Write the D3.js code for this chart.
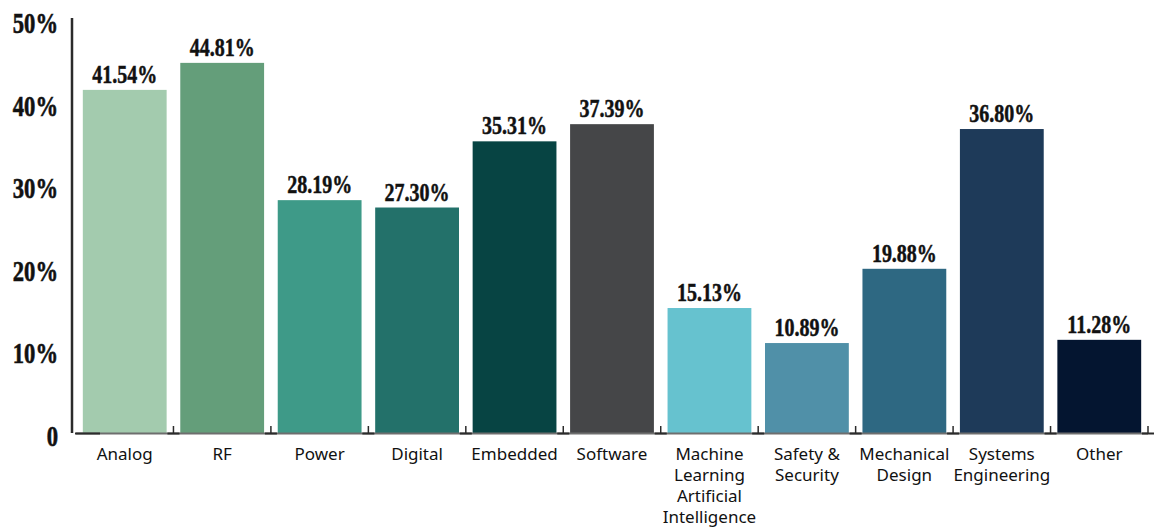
<!DOCTYPE html>
<html>
<head>
<meta charset="utf-8">
<script src="https://cdn.jsdelivr.net/npm/d3@7"></script>
<style>
  body { margin: 0; background: #fff; }
  .val, .ylab { font-family: "Liberation Serif", "DejaVu Serif", serif; font-weight: bold; }
  .xlab { font-family: "Noto Sans", "DejaVu Sans", sans-serif; }
</style>
</head>
<body>
<svg id="chart" width="1155" height="529"></svg>
<script>
var categories = ["Analog", "RF", "Power", "Digital", "Embedded", "Software",
  "Machine\nLearning\nArtificial\nIntelligence", "Safety &\nSecurity",
  "Mechanical\nDesign", "Systems\nEngineering", "Other"];
var values = [41.54, 44.81, 28.19, 27.30, 35.31, 37.39, 15.13, 10.89, 19.88, 36.80, 11.28];
var colors = ["#a3cbae", "#649e7a", "#3e9a88", "#23716a", "#074443", "#454648",
  "#66c2cf", "#5090a8", "#2e6882", "#1e3a59", "#041530"];
var yTicks = [0, 10, 20, 30, 40, 50];

var svg = d3.select("#chart");

var x = d3.scaleBand()
    .domain(d3.range(categories.length))
    .range([76, 1148])
    .paddingInner(0.14)
    .paddingOuter(0.07);

var y = d3.scaleLinear()
    .domain([0, 50])
    .range([433, 20]);

// y axis line
svg.append("line")
  .attr("x1", 72).attr("x2", 72)
  .attr("y1", 18).attr("y2", 433)
  .attr("stroke", "#2b2b2b")
  .attr("stroke-width", 2.5);

// condensed bold labels: squeeze horizontally
svg.selectAll(".ylab")
  .data(yTicks)
  .enter().append("text")
    .attr("class", "ylab")
    .attr("transform", function(d) { return "translate(58," + (y(d) + 13) + ") scale(0.78,1)"; })
    .attr("text-anchor", "end")
    .attr("font-size", 29)
    .attr("stroke", "#111")
    .attr("stroke-width", 0.6)
    .attr("fill", "#111")
    .text(function(d) { return d === 0 ? "0" : d + "%"; });

// bars
svg.selectAll(".bar")
  .data(values)
  .enter().append("rect")
    .attr("class", "bar")
    .attr("x", function(d, i) { return x(i); })
    .attr("y", function(d) { return y(d); })
    .attr("width", x.bandwidth())
    .attr("height", function(d) { return y(0) - y(d); })
    .attr("fill", function(d, i) { return colors[i]; });

// baseline
svg.append("line")
  .attr("x1", 76).attr("x2", 1148)
  .attr("y1", 433.5).attr("y2", 433.5)
  .attr("stroke", "#6e6e6e")
  .attr("stroke-width", 2);
svg.append("line")
  .attr("x1", 75).attr("x2", 100)
  .attr("y1", 433.5).attr("y2", 433.5)
  .attr("stroke", "#2b2b2b")
  .attr("stroke-width", 2);

// category boundary ticks
var bounds = d3.range(1, categories.length).map(function(i) {
  return x(i) - (x.step() - x.bandwidth()) / 2;
});
bounds.push(1148);
svg.selectAll(".tick")
  .data(bounds)
  .enter().append("line")
    .attr("x1", function(d) { return d; })
    .attr("x2", function(d) { return d; })
    .attr("y1", 426).attr("y2", 434)
    .attr("stroke", "#2b2b2b")
    .attr("stroke-width", 1.5);
svg.selectAll(".tickfoot")
  .data(bounds)
  .enter().append("line")
    .attr("x1", function(d) { return d - 6; })
    .attr("x2", function(d) { return d + 6; })
    .attr("y1", 433.5).attr("y2", 433.5)
    .attr("stroke", "#2b2b2b")
    .attr("stroke-width", 2);

// value labels
svg.selectAll(".val")
  .data(values)
  .enter().append("text")
    .attr("class", "val")
    .attr("transform", function(d, i) {
      return "translate(" + (x(i) + x.bandwidth() / 2) + "," + (y(d) - 7) + ") scale(0.8,1)";
    })
    .attr("text-anchor", "middle")
    .attr("font-size", 25)
    .attr("stroke", "#111")
    .attr("stroke-width", 0.5)
    .attr("fill", "#111")
    .text(function(d) { return d.toFixed(2) + "%"; });

// category labels
var xl = svg.selectAll(".xlab")
  .data(categories)
  .enter().append("text")
    .attr("class", "xlab")
    .attr("text-anchor", "middle")
    .attr("font-size", 17)
    .attr("fill", "#111");
xl.each(function(d, i) {
  var t = d3.select(this);
  d.split("\n").forEach(function(line, k) {
    t.append("tspan")
      .attr("x", x(i) + x.bandwidth() / 2)
      .attr("y", 460 + k * 21)
      .text(line);
  });
});
</script>
</body>
</html>
